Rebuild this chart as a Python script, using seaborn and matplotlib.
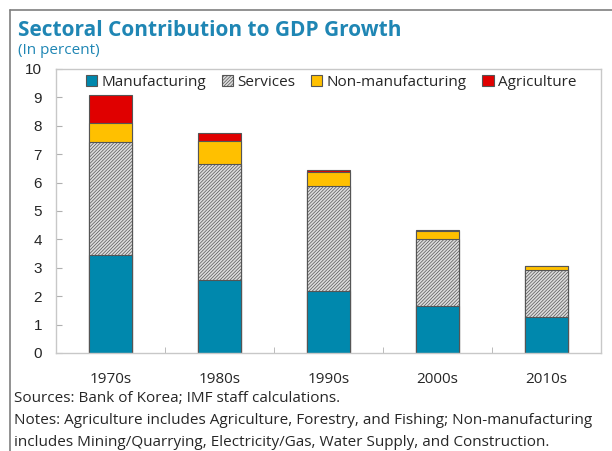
import pandas as pd
import matplotlib.pyplot as plt
from matplotlib.lines import Line2D
import seaborn as sb

decades = ['1970s', '1980s', '1990s', '2000s', '2010s']
manufacturing = [3.46, 2.58, 2.18, 1.67, 1.28]
services = [3.97, 4.06, 3.70, 2.35, 1.63]
non_manufacturing = [0.68, 0.81, 0.49, 0.26, 0.14]
agriculture = [0.98, 0.31, 0.09, 0.06, 0.01]

sectors = ['Manufacturing', 'Services', 'Non-manufacturing', 'Agriculture']
colors = {'Manufacturing': '#0088ad', 'Services': '#dcdcdc',
          'Non-manufacturing': '#ffc000', 'Agriculture': '#e00000'}
blue = '#1f86b4'

data = pd.DataFrame({'Decade': decades, 'Manufacturing': manufacturing,
                     'Services': services, 'Non-manufacturing': non_manufacturing,
                     'Agriculture': agriculture})
# stack by drawing cumulative totals, biggest first
stacked = data[sectors].cumsum(axis=1)

sb.set_style('white')
plt.rcParams['font.family'] = ['Open Sans', 'DejaVu Sans']
plt.rcParams['hatch.linewidth'] = 0.5

fig = plt.figure(figsize=(6.12, 4.51), dpi=100)
ax = fig.add_axes([56 / 612, 1 - 353 / 451, 545 / 612, 284 / 451])

for s in reversed(sectors):
    sb.barplot(x=data['Decade'], y=stacked[s], color=colors[s], saturation=1,
               width=0.4, edgecolor='#555555', linewidth=0.8,
               hatch='//////////' if s == 'Services' else None, label=s, ax=ax)

ax.set_xlim(-0.5, 4.5)
ax.set_ylim(0, 10)
ax.set_yticks(range(0, 11))
ax.set_xlabel('')
ax.set_ylabel('')
for sp in ax.spines.values():
    sp.set_color('#c8c8c8')
    sp.set_linewidth(1)
ax.tick_params(axis='y', direction='in', length=4, color='#b0b0b0', pad=10,
               labelsize=11, left=True)
ax.tick_params(axis='x', length=0, pad=14, labelsize=11)
ax.set_xticks([0.5, 1.5, 2.5, 3.5], minor=True)
ax.tick_params(axis='x', which='minor', direction='in', length=4, color='#b0b0b0', bottom=True)
for lab in ax.get_yticklabels():
    lab.set_fontfamily('Liberation Sans')

handles, labels = ax.get_legend_handles_labels()
order = [labels.index(s) for s in sectors]
ax.legend([handles[i] for i in order], sectors, ncol=4, loc='upper center',
          bbox_to_anchor=(0.505, 1.0), frameon=False, fontsize=11,
          handlelength=0.75, handleheight=0.75, handletextpad=0.3,
          columnspacing=1.0, borderaxespad=0.0)

fig.text(18 / 612, 1 - 30 / 451, 'Sectoral Contribution to GDP Growth', fontsize=15,
         fontweight='bold', color=blue, va='center')
fig.text(18 / 612, 1 - 50 / 451, '(In percent)', fontsize=11, color=blue, va='center')
fig.text(14 / 612, 1 - 399 / 451, 'Sources: Bank of Korea; IMF staff calculations.',
         fontsize=11, va='center')
fig.text(14 / 612, 1 - 421 / 451,
         'Notes: Agriculture includes Agriculture, Forestry, and Fishing; Non-manufacturing',
         fontsize=11, va='center')
fig.text(14 / 612, 1 - 443 / 451,
         'includes Mining/Quarrying, Electricity/Gas, Water Supply, and Construction.',
         fontsize=11, va='center')

# grey outer frame (left and top)
fig.add_artist(Line2D([10 / 612, 10 / 612], [0, 1 - 10 / 451], transform=fig.transFigure,
                      color='#7f7f7f', lw=1.2))
fig.add_artist(Line2D([10 / 612, 1], [1 - 10 / 451, 1 - 10 / 451], transform=fig.transFigure,
                      color='#7f7f7f', lw=1.2))

fig.savefig('out.png', dpi=100)
